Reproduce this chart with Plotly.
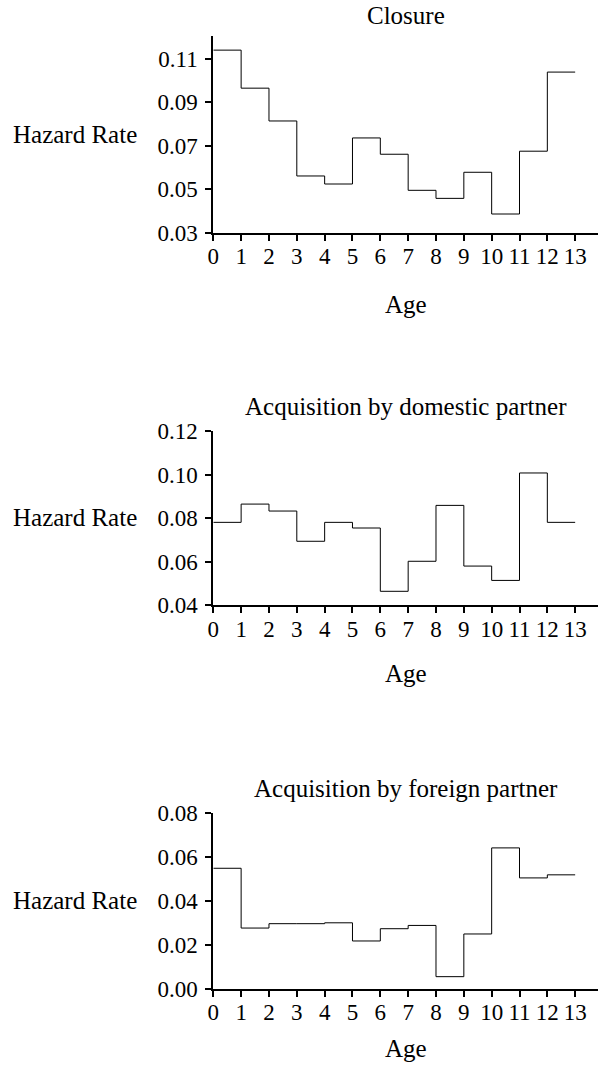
import plotly.graph_objects as go

ages = list(range(14))
age_labels = [str(a) for a in ages]

closure = [0.114, 0.0965, 0.0814, 0.0561, 0.0524, 0.0736, 0.0661, 0.0495, 0.0458, 0.0578, 0.0386, 0.0675, 0.1039]
domestic = [0.078, 0.0864, 0.0832, 0.0693, 0.078, 0.0754, 0.0463, 0.0601, 0.0858, 0.0579, 0.0513, 0.1007, 0.078]
foreign = [0.0549, 0.0276, 0.0296, 0.0296, 0.0300, 0.0217, 0.0273, 0.0288, 0.0054, 0.0249, 0.0642, 0.0505, 0.0519]

titles = ["Closure", "Acquisition by domestic partner", "Acquisition by foreign partner"]
series = [closure, domestic, foreign]
y_ranges = [[0.03, 0.1205], [0.04, 0.12], [0.0, 0.08]]
y_ticks = [[0.03, 0.05, 0.07, 0.09, 0.11], [0.04, 0.06, 0.08, 0.10, 0.12], [0.0, 0.02, 0.04, 0.06, 0.08]]
y_ticktext = [["0.03", "0.05", "0.07", "0.09", "0.11"],
              ["0.04", "0.06", "0.08", "0.10", "0.12"],
              ["0.00", "0.02", "0.04", "0.06", "0.08"]]

W = 598
H = 1066
FONT = "Liberation Serif"
FS_TICK = 23
FS_TXT = 25

# screen-pixel layout (top, bottom) of each plot area
pix = [(36, 232.7), (431, 605), (813.3, 988.5)]
title_y = [16, 406, 788]
age_y = [304, 673, 1048]
x_left = 213.3


def py(v):
    return 1 - v / H


fig = go.Figure()
layout = dict(
    width=W, height=H,
    margin=dict(l=0, r=0, t=0, b=0, autoexpand=False),
    paper_bgcolor="white", plot_bgcolor="white",
    showlegend=False,
    font=dict(family=FONT, size=FS_TICK, color="black"),
)
annotations = []
xdom = [x_left / W, 1.0]
xc = (xdom[0] + xdom[1]) / 2
for i, (vals, title) in enumerate(zip(series, titles)):
    n = "" if i == 0 else str(i + 1)
    xs = ages
    ys = vals + [vals[-1]]
    fig.add_trace(go.Scatter(x=xs, y=ys, mode="lines", line=dict(shape="hv", color="black", width=1),
                             xaxis="x" + n, yaxis="y" + n, hoverinfo="skip"))
    top, bot = pix[i]
    ydom = [py(bot), py(top)]
    layout["xaxis" + n] = dict(
        domain=xdom, anchor="y" + n, range=[0, 13.82],
        tickmode="array", tickvals=ages, ticktext=age_labels,
        ticks="outside", ticklen=6, tickwidth=2, tickcolor="black",
        showline=True, linewidth=2, linecolor="black",
        showgrid=False, zeroline=False, automargin=False,
        ticklabelstandoff=-4,
        tickfont=dict(family=FONT, size=FS_TICK, color="black"),
    )
    layout["yaxis" + n] = dict(
        domain=ydom, anchor="x" + n, range=y_ranges[i],
        tickmode="array", tickvals=y_ticks[i], ticktext=y_ticktext[i],
        ticks="outside", ticklen=6, tickwidth=2, tickcolor="black",
        showline=True, linewidth=2, linecolor="black",
        showgrid=False, zeroline=False, automargin=False,
        ticklabelstandoff=3,
        tickfont=dict(family=FONT, size=FS_TICK, color="black"),
    )
    annotations.append(dict(text=title, x=xc, y=py(title_y[i]), xref="paper", yref="paper",
                            xanchor="center", yanchor="middle", showarrow=False,
                            font=dict(family=FONT, size=FS_TXT, color="black")))
    annotations.append(dict(text="Hazard Rate", x=10.7 / W, y=py((top + bot) / 2), xref="paper", yref="paper",
                            xanchor="left", yanchor="middle", showarrow=False,
                            font=dict(family=FONT, size=FS_TXT, color="black")))
    annotations.append(dict(text="Age", x=xc, y=py(age_y[i]), xref="paper", yref="paper",
                            xanchor="center", yanchor="middle", showarrow=False,
                            font=dict(family=FONT, size=FS_TXT, color="black")))

layout["annotations"] = annotations
fig.update_layout(**layout)
fig.write_html("out.html", config={"displayModeBar": False, "staticPlot": True},
               post_script="document.body.style.margin='0px';")
